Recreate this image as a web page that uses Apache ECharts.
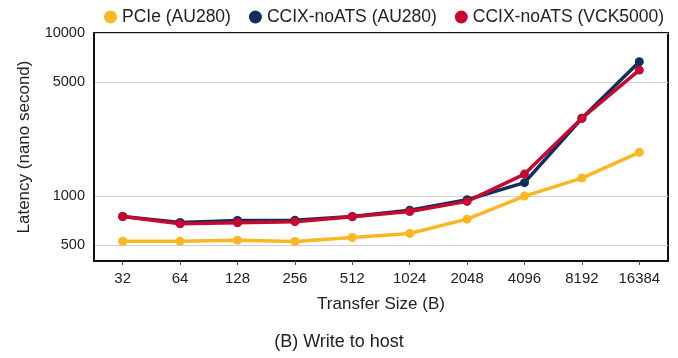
<!DOCTYPE html>
<html>
<head>
<meta charset="utf-8">
<script src="https://cdn.jsdelivr.net/npm/echarts@6/dist/echarts.min.js"></script>
<style>
  html, body { margin: 0; padding: 0; background: #fff; }
  #chart { width: 678px; height: 358px; }
</style>
</head>
<body>
<div id="chart"></div>
<script>
// Transfer sizes (bytes) on the x axis
const transferSizes = ['32', '64', '128', '256', '512', '1024', '2048', '4096', '8192', '16384'];

// Write-to-host latency in nanoseconds
const pcieAU280 = [529, 529, 537, 527, 557, 590, 722, 1000, 1290, 1856];
const ccixAU280 = [750, 690, 709, 712, 750, 820, 950, 1209, 3000, 6665];
const ccixVCK5000 = [750, 676, 686, 697, 747, 805, 928, 1365, 3003, 5925];

// Latency tick values on the log axis
const latencyTicks = [500, 1000, 5000, 10000];

const FONT = 'Liberation Sans, Arial, sans-serif';
const TEXT = '#222';

const chart = echarts.init(document.getElementById('chart'), null, { renderer: 'canvas' });

function lineSeries(name, data, color) {
  return {
    name: name,
    type: 'line',
    data: data,
    symbol: 'circle',
    symbolSize: 9,
    lineStyle: { width: 3.5, color: color },
    itemStyle: { color: color },
    emphasis: { disabled: true }
  };
}

chart.setOption({
  animation: false,
  textStyle: { fontFamily: FONT, color: TEXT },
  title: {
    text: '(B) Write to host',
    left: 'center',
    bottom: 2,
    textStyle: { fontFamily: FONT, fontSize: 18, fontWeight: 'normal', color: TEXT }
  },
  legend: {
    top: 3,
    left: 99,
    icon: 'circle',
    itemWidth: 13,
    itemHeight: 13,
    itemGap: 18,
    textStyle: { fontFamily: FONT, fontSize: 17.5, color: TEXT },
    data: ['PCIe (AU280)', 'CCIX-noATS (AU280)', 'CCIX-noATS (VCK5000)']
  },
  grid: {
    left: 94,
    right: 10,
    top: 33,
    bottom: 97,
    show: true,
    borderColor: '#111',
    borderWidth: 2,
    containLabel: false
  },
  xAxis: {
    type: 'category',
    data: transferSizes,
    boundaryGap: true,
    name: 'Transfer Size (B)',
    nameLocation: 'middle',
    nameGap: 35,
    nameTextStyle: { fontFamily: FONT, fontSize: 17, color: TEXT },
    axisLine: { show: true, lineStyle: { color: '#111', width: 2 } },
    axisTick: { show: true, alignWithLabel: true, length: 4, lineStyle: { color: '#555' } },
    axisLabel: { fontFamily: FONT, fontSize: 15, color: TEXT, margin: 10 },
    splitLine: { show: false }
  },
  yAxis: {
    type: 'log',
    logBase: 10,
    min: 400,
    max: 10000,
    name: 'Latency (nano second)',
    nameLocation: 'middle',
    nameGap: 61,
    nameRotate: 90,
    nameTextStyle: { fontFamily: FONT, fontSize: 17, color: TEXT },
    axisLine: { show: true, lineStyle: { color: '#111', width: 2 } },
    axisTick: { show: false, customValues: latencyTicks },
    axisLabel: {
      fontFamily: FONT, fontSize: 14.5, color: TEXT, margin: 9,
      customValues: latencyTicks,
      formatter: function (v) { return String(Math.round(v)); }
    },
    splitLine: { show: true, lineStyle: { color: '#d0d0d0', width: 1 } }
  },
  series: [
    lineSeries('PCIe (AU280)', pcieAU280, '#F9B823'),
    lineSeries('CCIX-noATS (AU280)', ccixAU280, '#0E2F5E'),
    lineSeries('CCIX-noATS (VCK5000)', ccixVCK5000, '#C8082F')
  ]
});
</script>
</body>
</html>
